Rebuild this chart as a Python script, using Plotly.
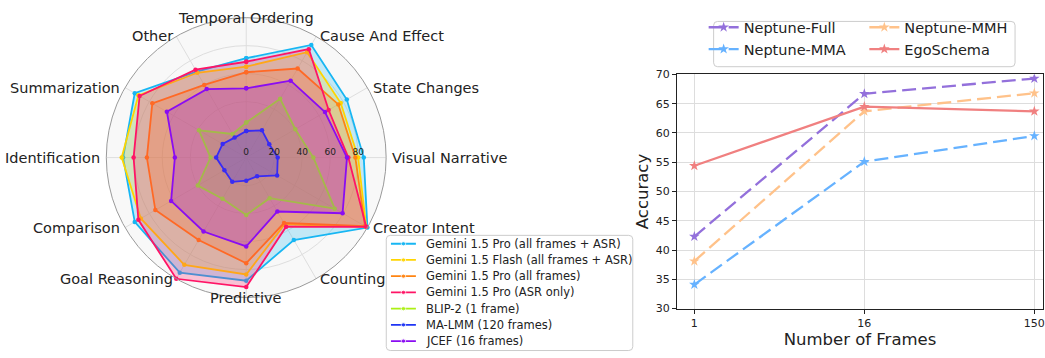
import math
import plotly.graph_objects as go

# ---------------------------------------------------------------- data
CATEGORIES = [
    "Temporal Ordering", "Cause And Effect", "State Changes", "Visual Narrative",
    "Creator Intent", "Counting", "Predictive", "Goal Reasoning", "Comparison",
    "Identification", "Summarization", "Other",
]

GEMINI_PRO_ALL_ASR = [71, 93, 83, 84, 100, 68, 88, 95, 92, 88, 92, 71]
GEMINI_FLASH_ALL_ASR = [65, 87, 78, 80, 99, 55, 83.5, 88.5, 87, 89, 89, 70]
GEMINI_PRO_ALL = [61, 73.5, 76, 78, 98, 54, 75.5, 68, 75, 71, 77.5, 60]
GEMINI_PRO_ASR = [68.5, 89.5, 68, 73, 99, 57, 92.5, 100, 89, 80.5, 88, 72.5]
BLIP2 = [25, 48.5, 40.5, 48, 73, 33.5, 41, 34, 40, 25.5, 39, 19.5]
MA_LMM = [19, 22.5, 19, 22.5, 25.5, 15.5, 16.5, 20, 18, 21.5, 19.5, 16.5]
JCEF = [49.5, 63.5, 65, 72, 79.5, 44.5, 63.5, 61, 62, 51, 65.5, 56.5]

RADAR_NAMES = [
    "Gemini 1.5 Pro (all frames + ASR)",
    "Gemini 1.5 Flash (all frames + ASR)",
    "Gemini 1.5 Pro (all frames)",
    "Gemini 1.5 Pro (ASR only)",
    "BLIP-2 (1 frame)",
    "MA-LMM (120 frames)",
    "JCEF (16 frames)",
]
RADAR_VALUES = [GEMINI_PRO_ALL_ASR, GEMINI_FLASH_ALL_ASR, GEMINI_PRO_ALL,
                GEMINI_PRO_ASR, BLIP2, MA_LMM, JCEF]
RADAR_COLORS = ["#17b6f3", "#ffd500", "#ff8412", "#ff1466",
                "#acf014", "#1f35f5", "#8a0cf2"]

RADIAL_TICKS = [0, 20, 40, 60, 80]
RADIAL_MAX = 100

FRAMES = ["1", "16", "150"]
NEPTUNE_FULL = [42.3, 66.7, 69.3]
NEPTUNE_MMH = [38.1, 63.7, 66.8]
NEPTUNE_MMA = [34.1, 55.1, 59.5]
EGOSCHEMA = [54.4, 64.5, 63.7]

LINE_NAMES = ["Neptune-Full", "Neptune-MMA", "Neptune-MMH", "EgoSchema"]
LINE_VALUES = [NEPTUNE_FULL, NEPTUNE_MMA, NEPTUNE_MMH, EGOSCHEMA]
LINE_COLORS = ["#9370db", "#66b2ff", "#ffc28a", "#f08080"]
LINE_DASH = ["14px,6px", "14px,6px", "14px,6px", "solid"]
LINE_LEGEND = ["legend", "legend", "legend2", "legend2"]

# ---------------------------------------------------------------- layout helpers
W, H = 1045, 358
FONT = "DejaVu Sans"
TEXT = "#222222"

# radar centre and half-size of its square domain, in pixels
CX, CY, HALF = 246.7, 157.3, 145.2
# distance of the category names from the centre, in pixels
NAME_RADIUS = 145.3

# radar legend panel: box edges and first/last row centres, in pixels
LEG_X0, LEG_X1, LEG_Y0, LEG_Y1 = 387, 634, 238, 357.5
ROW_FIRST, ROW_LAST = 246.7, 347.7


def px_x(x):
    return x / W


def px_y(y):
    return 1 - y / H


def rgba(hex_color, alpha):
    h = hex_color.lstrip("#")
    r, g, b = int(h[0:2], 16), int(h[2:4], 16), int(h[4:6], 16)
    return f"rgba({r},{g},{b},{alpha})"


def rounded_box(x0, y0, x1, y1, rad=4):
    """SVG path (paper coords) of a rounded rectangle given in pixels."""
    rx, ry = rad / W, rad / H
    a, b, c, d = px_x(x0), px_y(y1), px_x(x1), px_y(y0)  # left, bottom, right, top
    return (f"M{a + rx},{d} L{c - rx},{d} Q{c},{d} {c},{d - ry} "
            f"L{c},{b + ry} Q{c},{b} {c - rx},{b} L{a + rx},{b} "
            f"Q{a},{b} {a},{b + ry} L{a},{d - ry} Q{a},{d} {a + rx},{d} Z")


fig = go.Figure()

# ---------------------------------------------------------------- radar chart
for name, vals, col in zip(RADAR_NAMES, RADAR_VALUES, RADAR_COLORS):
    fig.add_trace(go.Scatterpolar(
        r=vals + vals[:1],
        theta=CATEGORIES + CATEGORIES[:1],
        name=name,
        mode="lines+markers",
        line=dict(color=col, width=1.8),
        marker=dict(color=col, size=4.5),
        fill="toself",
        fillcolor=rgba(col, 0.24),
        showlegend=False,
        subplot="polar",
    ))

# category names around the outer ring, aligned away from the centre
n_cat = len(CATEGORIES)
for i, cat in enumerate(CATEGORIES):
    ang = math.radians(90 - i * 360 / n_cat)
    c, s = math.cos(ang), math.sin(ang)
    anchor = "left" if c > 0.01 else ("right" if c < -0.01 else "center")
    fig.add_annotation(
        x=px_x(CX + NAME_RADIUS * c), y=px_y(CY - NAME_RADIUS * s),
        xref="paper", yref="paper", text=cat, showarrow=False,
        xanchor=anchor, yanchor="middle", borderpad=0,
        font=dict(family=FONT, size=14.5, color=TEXT),
    )

# legend panel for the radar chart, drawn on its own helper axes
KEY_X0, KEY_X1, TEXT_X = 4.7, 29.7, 38
n_rows = len(RADAR_NAMES)
row_step = (ROW_LAST - ROW_FIRST) / (n_rows - 1)
for i, (name, col) in enumerate(zip(RADAR_NAMES, RADAR_COLORS)):
    fig.add_trace(go.Scatter(
        x=[KEY_X0, (KEY_X0 + KEY_X1) / 2, KEY_X1],
        y=[i, i, i],
        mode="lines+markers",
        line=dict(color=col, width=1.8),
        marker=dict(color=col, size=[0, 4.5, 0]),
        showlegend=False,
        hoverinfo="skip",
        xaxis="x2",
        yaxis="y2",
    ))
    fig.add_annotation(
        x=TEXT_X, y=i, xref="x2", yref="y2", text=name, showarrow=False,
        xanchor="left", yanchor="middle",
        font=dict(family=FONT, size=11.5, color=TEXT),
    )

# ---------------------------------------------------------------- frames vs accuracy
for name, vals, col, dash, leg in zip(LINE_NAMES, LINE_VALUES, LINE_COLORS,
                                      LINE_DASH, LINE_LEGEND):
    fig.add_trace(go.Scatter(
        x=FRAMES, y=vals, name=name, mode="lines+markers",
        line=dict(color=col, width=2.3, dash=dash),
        marker=dict(symbol="star", size=8, color=col),
        legend=leg,
        xaxis="x", yaxis="y",
    ))

legend_common = dict(
    bgcolor="rgba(0,0,0,0)", borderwidth=0,
    font=dict(family=FONT, size=14.5, color=TEXT),
    xanchor="left", yanchor="top", orientation="v",
    tracegroupgap=0,
)

fig.update_layout(
    width=W, height=H,
    margin=dict(l=0, r=0, t=0, b=0),
    paper_bgcolor="white",
    plot_bgcolor="white",
    font=dict(family=FONT, color=TEXT),
    polar=dict(
        domain=dict(x=[px_x(CX - HALF), px_x(CX + HALF)],
                    y=[px_y(CY + HALF), px_y(CY - HALF)]),
        bgcolor="#f8f8f8",
        angularaxis=dict(
            categoryorder="array", categoryarray=CATEGORIES,
            rotation=90, direction="clockwise",
            showticklabels=False, ticks="",
            showline=True, linecolor="#9a9a9a", linewidth=1,
            gridcolor="#dedede", gridwidth=1,
        ),
        radialaxis=dict(
            range=[0, RADIAL_MAX], tickvals=RADIAL_TICKS, angle=0,
            tickfont=dict(family=FONT, size=9, color=TEXT),
            ticks="", showline=False, gridcolor="#dedede", gridwidth=1,
            side="counterclockwise",
        ),
    ),
    xaxis=dict(
        domain=[px_x(678.3), 1.0],
        type="category", categoryorder="array", categoryarray=FRAMES,
        range=[-0.102, 2.051],
        showline=True, mirror=True, linecolor="#222222", linewidth=1.2,
        ticks="outside", ticklen=4, tickcolor="#222222",
        showgrid=True, gridcolor="#dddddd", gridwidth=1,
        tickfont=dict(family=FONT, size=11, color=TEXT),
        title=dict(text="Number of Frames", standoff=3,
                   font=dict(family=FONT, size=16.5, color=TEXT)),
        zeroline=False,
    ),
    yaxis=dict(
        domain=[px_y(314), px_y(71)],
        range=[30, 70], dtick=5,
        showline=True, mirror=True, linecolor="#222222", linewidth=1.2,
        ticks="outside", ticklen=4, tickcolor="#222222",
        showgrid=True, gridcolor="#dddddd", gridwidth=1,
        tickfont=dict(family=FONT, size=11, color=TEXT),
        title=dict(text="Accuracy", standoff=2,
                   font=dict(family=FONT, size=16.5, color=TEXT)),
        zeroline=False,
    ),
    xaxis2=dict(
        domain=[px_x(LEG_X0), px_x(LEG_X1)], range=[0, LEG_X1 - LEG_X0],
        visible=False, fixedrange=True,
    ),
    yaxis2=dict(
        domain=[0, px_y(LEG_Y0)],
        range=[(n_rows - 1) + (H - ROW_LAST) / row_step,
               -(ROW_FIRST - LEG_Y0) / row_step],
        visible=False, fixedrange=True,
    ),
    legend=dict(x=px_x(705), y=px_y(5.5), **legend_common),
    legend2=dict(x=px_x(866), y=px_y(5.5), **legend_common),
    shapes=[
        dict(type="path", path=rounded_box(LEG_X0, LEG_Y0, LEG_X1, LEG_Y1),
             xref="paper", yref="paper", line=dict(color="#cccccc", width=1),
             fillcolor="rgba(255,255,255,0.85)", layer="below"),
        dict(type="path", path=rounded_box(715, 16, 1017, 63), xref="paper",
             yref="paper", line=dict(color="#cccccc", width=1),
             fillcolor="rgba(255,255,255,0.85)", layer="below"),
    ],
)

fig.write_html("out.html")
